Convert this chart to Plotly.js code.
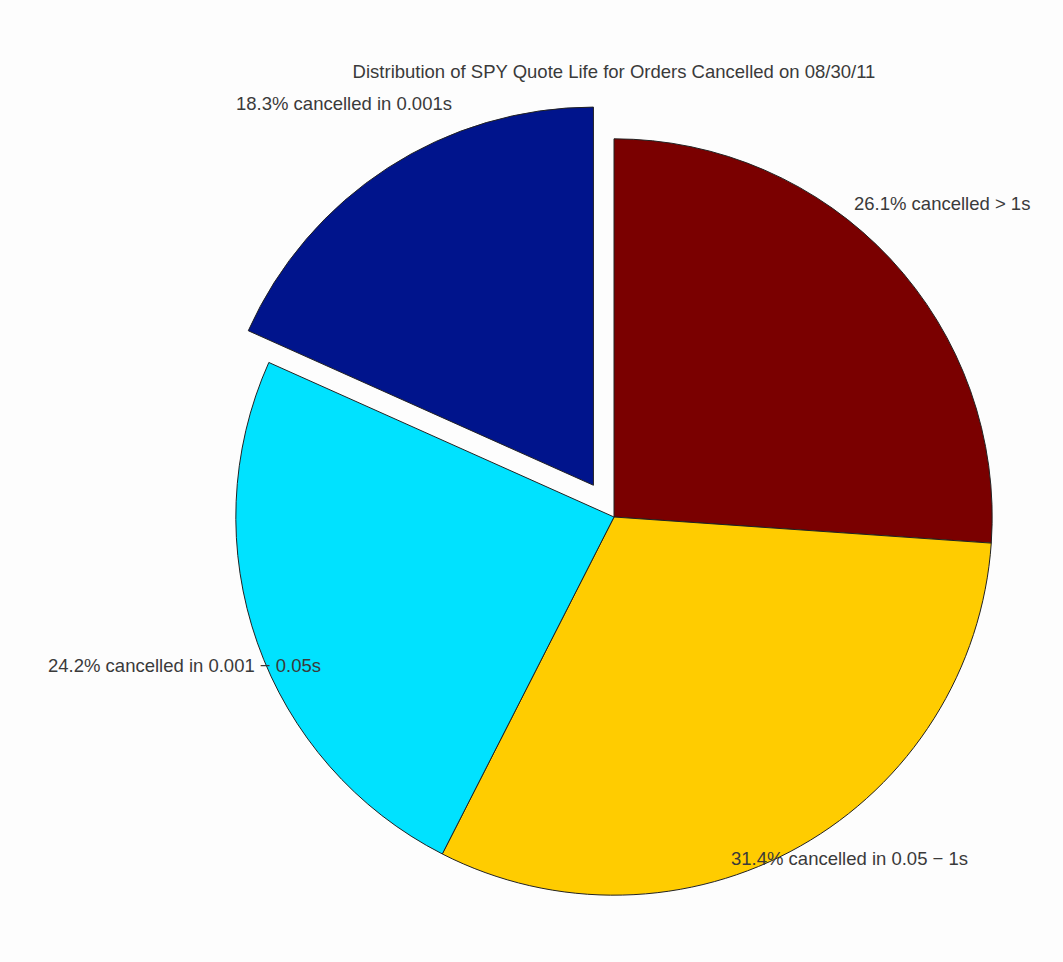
<!DOCTYPE html>
<html>
<head>
<meta charset="utf-8">
<script src="https://cdn.plot.ly/plotly-3.0.1.min.js"></script>
<style>html,body{margin:0;padding:0;background:#fdfdfd;}</style>
</head>
<body>
<div id="chart" style="width:1063px;height:962px;"></div>
<script>
const categories = ["cancelled > 1s", "cancelled in 0.05 − 1s", "cancelled in 0.001 − 0.05s", "cancelled in 0.001s"];
const shares = [26.1, 31.4, 24.2, 18.3];
const sliceColors = ["#7a0000", "#ffcc00", "#00e2ff", "#00148c"];
const pulls = [0, 0, 0, 0.1];
const labelText = shares.map((v, i) => v.toFixed(1) + "% " + categories[i]);

const W = 1063, H = 962;
// label anchor positions (pixel) for each slice label
const labelPos = [[852, 203, "left"], [729, 858, "left"], [46, 665, "left"], [234, 103, "left"]];

const annotations = labelText.map((t, i) => ({
  text: t, showarrow: false, xref: "paper", yref: "paper",
  x: labelPos[i][0] / W, y: 1 - labelPos[i][1] / H,
  xanchor: labelPos[i][2], yanchor: "middle",
  font: {family: "Liberation Sans, Arial, sans-serif", size: 18.5, color: "#3a3a3a"}
}));

const trace = {
  type: "pie",
  values: shares,
  labels: categories,
  marker: {colors: sliceColors, line: {color: "#222", width: 1}},
  pull: pulls,
  sort: false,
  direction: "clockwise",
  rotation: 0,
  textinfo: "none",
  hoverinfo: "label+percent",
  showlegend: false,
  domain: {x: [198 / W, 1030 / W], y: [1 - 933 / H, 1 - 101 / H]}
};

Plotly.newPlot("chart", [trace], {
  width: W, height: H,
  margin: {l: 0, r: 0, t: 0, b: 0},
  paper_bgcolor: "#fdfdfd",
  title: {text: "Distribution of SPY Quote Life for Orders Cancelled on 08/30/11",
          x: 614 / W, xanchor: "center", y: 1 - 72 / H, yanchor: "middle",
          font: {family: "Liberation Sans, Arial, sans-serif", size: 18.5, color: "#3a3a3a"}},
  annotations: annotations
}, {displayModeBar: false});
</script>
</body>
</html>
